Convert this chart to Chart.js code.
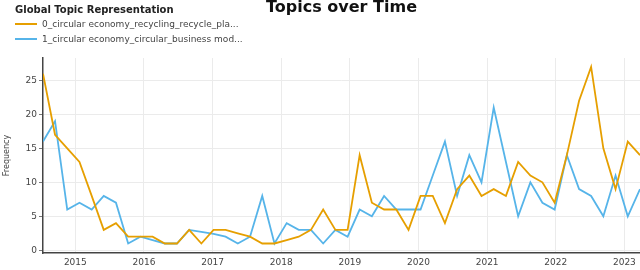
<!DOCTYPE html>
<html>
<head>
<meta charset="utf-8">
<script src="https://cdn.jsdelivr.net/npm/chart.js@4"></script>
<style>
  body { margin: 0; background: #fff; }
  #wrap { position: relative; width: 640px; height: 270px; }
  #legend { position: absolute; left: 15px; top: 0; font-family: 'DejaVu Sans', sans-serif; }
  #legend .ttl { position: absolute; top: 4px; left: 0; font-size: 10px; line-height: 12px; font-weight: bold; color: #222; white-space: nowrap; }
  #legend .row { position: absolute; left: 0; height: 12px; display: flex; align-items: center; white-space: nowrap; font-size: 9px; color: #444; }
  #legend .row span.ln { display: inline-block; width: 22px; height: 2px; margin-right: 5px; }
</style>
</head>
<body>
<div id="wrap">
  <canvas id="myChart"></canvas>
  <div id="legend"></div>
</div>
<script>
// bin dates (one per point) and topic frequencies
const dates = ['2014-07-13','2014-09-15','2014-11-19','2015-01-23','2015-03-29','2015-06-01','2015-08-05','2015-10-09','2015-12-13','2016-02-16',
  '2016-04-21','2016-06-25','2016-08-29','2016-11-02','2017-01-06','2017-03-11','2017-05-15','2017-07-19','2017-09-22','2017-11-26',
  '2018-01-30','2018-04-04','2018-06-08','2018-08-12','2018-10-16','2018-12-20','2019-02-22','2019-04-28','2019-07-02','2019-09-05',
  '2019-11-09','2020-01-12','2020-03-17','2020-05-21','2020-07-25','2020-09-28','2020-12-02','2021-02-05','2021-04-11','2021-06-15',
  '2021-08-19','2021-10-22','2021-12-26','2022-03-01','2022-05-05','2022-07-08','2022-09-11','2022-11-15','2023-01-19','2023-03-25'];

const topicNames = ['0_circular economy_recycling_recycle_pla...', '1_circular economy_circular_business mod...'];
const topic0 = [26,17,15,13,8,3,4,2,2,2, 1,1,3,1,3,3,2.5,2,1,1, 1.5,2,3,6,3,3,14,7,6,6, 3,8,8,4,9,11,8,9,8,13, 11,10,7,14,22,27,15,9,16,14];
const topic1 = [16,19,6,7,6,8,7,1,2,1.5, 1,1,3,2.7,2.4,2,1,2,8,1, 4,3,3,1,3,2,6,5,8,6, 6,6,11,16,8,14,10,21,13,5, 10,7,6,14,9,8,5,11,5,9];
const colors = ['#E69F00', '#56B4E9'];

const xTicks = [2015, 2016, 2017, 2018, 2019, 2020, 2021, 2022, 2023];
const yTicks = [0, 5, 10, 15, 20, 25];

// date string -> decimal year
const toYear = s => {
  const [y, m, d] = s.split('-').map(Number);
  const start = Date.UTC(y, 0, 1), end = Date.UTC(y + 1, 0, 1);
  return y + (Date.UTC(y, m - 1, d) - start) / (end - start);
};
const xs = dates.map(toYear);
const series = [topic0, topic1];

// html legend
const legend = document.getElementById('legend');
legend.innerHTML = '<div class="ttl">Global Topic Representation</div>' +
  topicNames.map((n, i) =>
    `<div class="row" style="top:${18 + i * 15}px"><span class="ln" style="background:${colors[i]}"></span>${n}</div>`
  ).join('');

Chart.defaults.font.family = "'DejaVu Sans', sans-serif";
Chart.defaults.color = '#444';

new Chart(document.getElementById('myChart'), {
  type: 'line',
  data: {
    datasets: series.map((vals, i) => ({
      label: topicNames[i],
      data: vals.map((v, j) => ({ x: xs[j], y: v })),
      borderColor: colors[i],
      backgroundColor: colors[i],
      borderWidth: 1.8,
      pointRadius: 0,
      tension: 0
    }))
  },
  options: {
    responsive: true,
    maintainAspectRatio: false,
    animation: false,
    layout: { padding: 0 },
    plugins: {
      legend: { display: false },
      tooltip: { enabled: false },
      title: {
        display: true,
        text: 'Topics over Time',
        fullSize: false,
        color: '#111',
        font: { size: 16, weight: 'bold', lineHeight: 1 },
        padding: { top: 0, bottom: 42 }
      }
    },
    scales: {
      x: {
        type: 'linear',
        min: xs[0],
        max: xs[xs.length - 1],
        afterBuildTicks: axis => { axis.ticks = xTicks.map(v => ({ value: v })); },
        afterFit: axis => { axis.height = 17; },
        ticks: { font: { size: 9 }, padding: 1, maxRotation: 0, callback: v => String(v) },
        grid: { color: '#ebebeb', tickLength: 3, tickColor: 'rgba(0,0,0,0)' },
        border: { color: '#444', width: 1.5 }
      },
      y: {
        min: -0.4,
        max: 28.3,
        afterBuildTicks: axis => { axis.ticks = yTicks.map(v => ({ value: v })); },
        afterFit: axis => { axis.width = 43; },
        ticks: { font: { size: 9 }, padding: 2 },
        grid: { color: '#ebebeb', tickLength: 4, tickColor: '#777' },
        border: { color: '#444', width: 1.5 },
        title: { display: true, text: 'Frequency', font: { size: 8 }, padding: { top: 2, bottom: 0 } }
      }
    }
  }
});
</script>
</body>
</html>
